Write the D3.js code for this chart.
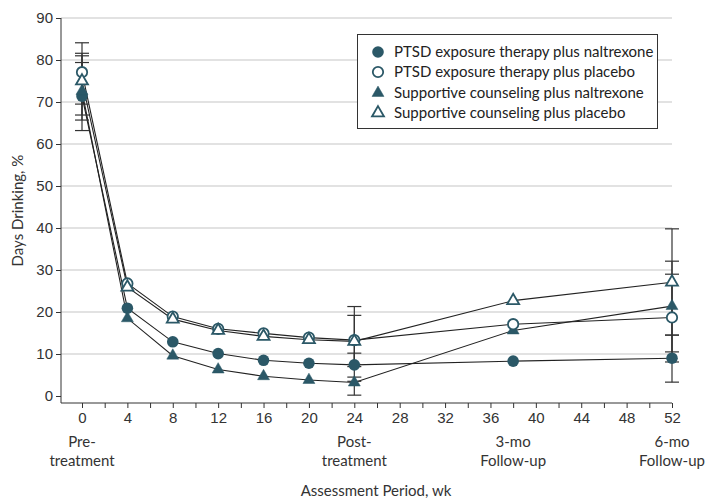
<!DOCTYPE html>
<html>
<head>
<meta charset="utf-8">
<script src="https://cdn.jsdelivr.net/npm/d3@7"></script>
<style>
  body { margin: 0; background: #fff; }
  svg { font-family: Lato, "Open Sans", sans-serif; }
</style>
</head>
<body>
<svg id="chart" width="708" height="498"></svg>
<script>
// days drinking by assessment week, 4 treatment groups

const weeks = [0, 4, 8, 12, 16, 20, 24, 38, 52];
const ptsdNal = [71.4, 20.9, 12.9, 10.1, 8.5, 7.8, 7.4, 8.3, 9.0];
const ptsdPlacebo = [77.1, 26.8, 18.9, 16.0, 14.9, 13.9, 13.3, 17.1, 18.7];
const scNal = [72.6, 18.5, 9.6, 6.3, 4.7, 3.8, 3.2, 15.6, 21.4];
const scPlacebo = [75.0, 25.9, 18.3, 15.6, 14.2, 13.4, 13.0, 22.7, 27.1];

// error bars only at pre, post and 6-mo
const errWeeks = [0, 24, 52];
const ptsdNalLow = [63.2, 3.5, 3.3];
const ptsdNalHigh = [79.4, 10.2, 14.5];
const ptsdPlaceboLow = [69.5, 7.5, 8.1];
const ptsdPlaceboHigh = [84.1, 21.3, 29.0];
const scNalLow = [65.7, 0.2, 10.5];
const scNalHigh = [81.0, 4.5, 32.1];
const scPlaceboLow = [66.9, 7.0, 14.5];
const scPlaceboHigh = [81.6, 19.2, 39.8];

const seriesNames = [
  "PTSD exposure therapy plus naltrexone",
  "PTSD exposure therapy plus placebo",
  "Supportive counseling plus naltrexone",
  "Supportive counseling plus placebo"
];

const yTicks = [0, 10, 20, 30, 40, 50, 60, 70, 80, 90];
const xTicks = [0, 4, 8, 12, 16, 20, 24, 28, 32, 36, 40, 44, 48, 52];
const phaseWeeks = [0, 24, 38, 52];
const phaseTop = ["Pre-", "Post-", "3-mo", "6-mo"];
const phaseBottom = ["treatment", "treatment", "Follow-up", "Follow-up"];

const teal = "#2b5867";
const series = [
  { name: seriesNames[0], vals: ptsdNal, lo: ptsdNalLow, hi: ptsdNalHigh, shape: "circle", filled: true },
  { name: seriesNames[1], vals: ptsdPlacebo, lo: ptsdPlaceboLow, hi: ptsdPlaceboHigh, shape: "circle", filled: false },
  { name: seriesNames[2], vals: scNal, lo: scNalLow, hi: scNalHigh, shape: "triangle", filled: true },
  { name: seriesNames[3], vals: scPlacebo, lo: scPlaceboLow, hi: scPlaceboHigh, shape: "triangle", filled: false }
];

const svg = d3.select("#chart");

let x = d3.scaleLinear([0, 52], [82, 672]);
let y = d3.scaleLinear([0, 90], [396, 18]);
let axisLeftX = 61;
let axisBottomY = 403;

// gridlines
svg.append("g")
  .selectAll("line")
  .data(yTicks.filter(d => d > 0))
  .join("line")
    .attr("x1", axisLeftX).attr("x2", x(52))
    .attr("y1", d => y(d)).attr("y2", d => y(d))
    .attr("stroke", "#d8d8d8")
    .attr("stroke-width", 1.3);

// y axis
let yAxis = svg.append("g")
  .attr("transform", "translate(" + axisLeftX + ",0)")
  .call(d3.axisLeft(y).tickValues(yTicks).tickSize(5).tickPadding(3));
yAxis.select(".domain").remove();
yAxis.selectAll("text").attr("font-size", 15).attr("fill", "#333");
yAxis.selectAll("line").attr("stroke", "#333");
svg.append("line")
  .attr("x1", axisLeftX).attr("x2", axisLeftX)
  .attr("y1", y(90)).attr("y2", axisBottomY)
  .attr("stroke", "#333");

// x axis
let xMinor = d3.range(0, 53, 2);
let xAxis = svg.append("g")
  .attr("transform", "translate(0," + axisBottomY + ")")
  .call(d3.axisBottom(x).tickValues(xMinor).tickSize(5).tickPadding(4)
    .tickFormat(d => xTicks.includes(d) ? d : ""));
xAxis.select(".domain").remove();
xAxis.selectAll("text").attr("font-size", 15).attr("fill", "#333");
xAxis.selectAll("line").attr("stroke", "#333");
svg.append("line")
  .attr("x1", axisLeftX).attr("x2", x(52))
  .attr("y1", axisBottomY).attr("y2", axisBottomY)
  .attr("stroke", "#333");

// phase labels under ticks
let phases = svg.append("g").attr("font-size", 15).attr("fill", "#333").attr("text-anchor", "middle");
phaseWeeks.forEach(function (w, i) {
  phases.append("text").attr("x", x(w)).attr("y", 447).text(phaseTop[i]);
  phases.append("text").attr("x", x(w)).attr("y", 466).text(phaseBottom[i]);
});

// axis titles
svg.append("text")
  .attr("x", 376).attr("y", 496)
  .attr("text-anchor", "middle")
  .attr("font-size", 15).attr("fill", "#333")
  .text("Assessment Period, wk");
svg.append("text")
  .attr("transform", "translate(23," + ((y(90) + axisBottomY) / 2) + ")rotate(-90)")
  .attr("text-anchor", "middle")
  .attr("font-size", 15).attr("fill", "#333")
  .text("Days Drinking, %");

// connecting lines
let line = d3.line().x((d, i) => x(weeks[i])).y(d => y(d));
series.forEach(function (s) {
  svg.append("path")
    .attr("d", line(s.vals))
    .attr("fill", "none")
    .attr("stroke", "#222")
    .attr("stroke-width", 1.1);
});

// error bars
let capW = 7;
series.forEach(function (s) {
  let g = svg.append("g").attr("stroke", "#333").attr("stroke-width", 1.2);
  errWeeks.forEach(function (w, i) {
    let cx = x(w);
    g.append("line").attr("x1", cx).attr("x2", cx).attr("y1", y(s.lo[i])).attr("y2", y(s.hi[i]));
    g.append("line").attr("x1", cx - capW).attr("x2", cx + capW).attr("y1", y(s.lo[i])).attr("y2", y(s.lo[i]));
    g.append("line").attr("x1", cx - capW).attr("x2", cx + capW).attr("y1", y(s.hi[i])).attr("y2", y(s.hi[i]));
  });
});

// markers
let triPath = d3.symbol(d3.symbolTriangle, 62)();
function drawMarker(g, s, cx, cy) {
  if (s.shape === "circle") {
    g.append("circle")
      .attr("cx", cx).attr("cy", cy).attr("r", s.filled ? 5.8 : 5.2)
      .attr("fill", s.filled ? teal : "#fff")
      .attr("stroke", teal)
      .attr("stroke-width", s.filled ? 0 : 1.8);
  } else {
    g.append("path")
      .attr("d", triPath)
      .attr("transform", "translate(" + cx + "," + cy + ")")
      .attr("fill", s.filled ? teal : "#fff")
      .attr("stroke", teal)
      .attr("stroke-width", s.filled ? 0.5 : 1.8)
      .attr("stroke-linejoin", "miter");
  }
}
let order = [0, 2, 1, 3];
order.forEach(function (k) {
  let s = series[k];
  let g = svg.append("g");
  s.vals.forEach(function (v, i) { drawMarker(g, s, x(weeks[i]), y(v)); });
});

// legend
let legend = svg.append("g");
legend.append("rect")
  .attr("x", 357.5).attr("y", 34.5).attr("width", 300).attr("height", 94)
  .attr("fill", "#fff").attr("stroke", "#333").attr("stroke-width", 1);
let rowY = [52, 72, 93, 113];
series.forEach(function (s, i) {
  drawMarker(legend, s, 378, rowY[i]);
  legend.append("text")
    .attr("x", 394).attr("y", rowY[i]).attr("dy", "0.35em")
    .attr("font-size", 15).attr("fill", "#222")
    .text(s.name);
});
</script>
</body>
</html>
